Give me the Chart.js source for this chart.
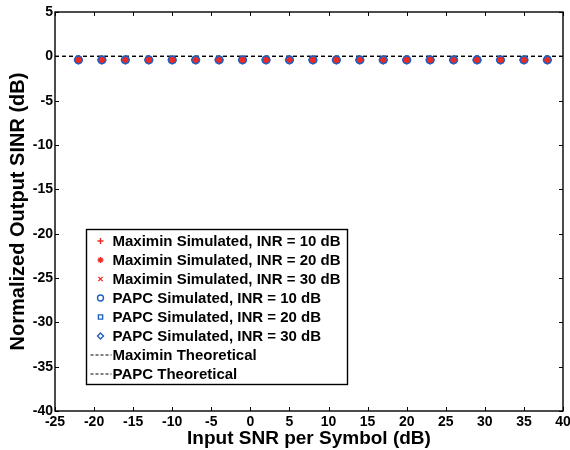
<!DOCTYPE html>
<html>
<head>
<meta charset="utf-8">
<script src="https://cdn.jsdelivr.net/npm/chart.js@4.4.0/dist/chart.umd.min.js"></script>
<style>
  body { margin: 0; background: #fff; }
  #wrap { width: 570px; height: 450px; }
</style>
</head>
<body>
<div id="wrap"><canvas id="plot"></canvas></div>
<script>
// x positions (input SNR per symbol, dB)
const snr = [-22, -19, -16, -13, -10, -7, -4, -1, 2, 5, 8, 11, 14, 17, 20, 23, 26, 29, 32, 35, 38]

// simulated normalized output SINR (dB)
const maximin10 = [-0.4, -0.4, -0.4, -0.4, -0.4, -0.4, -0.4, -0.4, -0.4, -0.4, -0.4, -0.4, -0.4, -0.4, -0.4, -0.4, -0.4, -0.4, -0.4, -0.4, -0.4]
const maximin20 = [-0.4, -0.4, -0.4, -0.4, -0.4, -0.4, -0.4, -0.4, -0.4, -0.4, -0.4, -0.4, -0.4, -0.4, -0.4, -0.4, -0.4, -0.4, -0.4, -0.4, -0.4]
const maximin30 = [-0.4, -0.4, -0.4, -0.4, -0.4, -0.4, -0.4, -0.4, -0.4, -0.4, -0.4, -0.4, -0.4, -0.4, -0.4, -0.4, -0.4, -0.4, -0.4, -0.4, -0.4]
const papc10 = [-0.4, -0.4, -0.4, -0.4, -0.4, -0.4, -0.4, -0.4, -0.4, -0.4, -0.4, -0.4, -0.4, -0.4, -0.4, -0.4, -0.4, -0.4, -0.4, -0.4, -0.4]
const papc20 = [-0.4, -0.4, -0.4, -0.4, -0.4, -0.4, -0.4, -0.4, -0.4, -0.4, -0.4, -0.4, -0.4, -0.4, -0.4, -0.4, -0.4, -0.4, -0.4, -0.4, -0.4]
const papc30 = [-0.4, -0.4, -0.4, -0.4, -0.4, -0.4, -0.4, -0.4, -0.4, -0.4, -0.4, -0.4, -0.4, -0.4, -0.4, -0.4, -0.4, -0.4, -0.4, -0.4, -0.4]

// theoretical curves
const theoryX = [-25, 40]
const maximinTheory = [0, 0]
const papcTheory = [0, 0]

const xTicks = [-25, -20, -15, -10, -5, 0, 5, 10, 15, 20, 25, 30, 35, 40]
const yTicks = [5, 0, -5, -10, -15, -20, -25, -30, -35, -40]

const RED = '#ee2a24'
const BLUE = '#1f5fbf'
const FONT = 'Liberation Sans, Arial, sans-serif'

function pts(xs, ys) {
    return xs.map((x, i) => ({x: x, y: ys[i]}))
}

function sim(label, ys, color, style, r) {
    return {
        label: label, data: pts(snr, ys), showLine: false,
        pointStyle: style, pointRadius: r, pointBorderWidth: 1.5,
        borderColor: color, backgroundColor: 'rgba(0,0,0,0)',
        pointBackgroundColor: 'rgba(0,0,0,0)', pointBorderColor: color
    }
}

function theory(label, ys) {
    return {
        label: label, data: pts(theoryX, ys), showLine: true,
        borderColor: '#000', borderWidth: 1.4, borderDash: [4, 3],
        pointRadius: 0, fill: false, isLine: true
    }
}

const datasets = [
    sim('Maximin Simulated, INR = 10 dB', maximin10, RED, 'cross', 3),
    sim('Maximin Simulated, INR = 20 dB', maximin20, RED, 'star', 3),
    sim('Maximin Simulated, INR = 30 dB', maximin30, RED, 'crossRot', 3),
    sim('PAPC Simulated, INR = 10 dB', papc10, BLUE, 'circle', 3.8),
    sim('PAPC Simulated, INR = 20 dB', papc20, BLUE, 'rect', 3.8),
    sim('PAPC Simulated, INR = 30 dB', papc30, BLUE, 'rectRot', 3.8),
    theory('Maximin Theoretical', maximinTheory),
    theory('PAPC Theoretical', papcTheory)
]
// red markers on top of blue ones
datasets.forEach((d, i) => { d.order = i < 3 ? 0 : (i < 6 ? 1 : 2) })

// frame + inward ticks, MATLAB style
const framePlugin = {
    id: 'frame',
    afterDraw(chart) {
        const ctx = chart.ctx
        const a = chart.chartArea
        const xs = chart.scales.x, ys = chart.scales.y
        ctx.save()
        ctx.strokeStyle = '#000'
        ctx.lineWidth = 1.4
        ctx.strokeRect(a.left, a.top, a.right - a.left, a.bottom - a.top)
        ctx.lineWidth = 1
        ctx.beginPath()
        xTicks.forEach(v => {
            const px = Math.round(xs.getPixelForValue(v)) + 0.5
            ctx.moveTo(px, a.bottom); ctx.lineTo(px, a.bottom - 4)
            ctx.moveTo(px, a.top); ctx.lineTo(px, a.top + 4)
        })
        yTicks.forEach(v => {
            const py = Math.round(ys.getPixelForValue(v)) + 0.5
            ctx.moveTo(a.left, py); ctx.lineTo(a.left + 4, py)
            ctx.moveTo(a.right, py); ctx.lineTo(a.right - 4, py)
        })
        ctx.stroke()
        ctx.restore()
    }
}

// legend box drawn inside the axes
const insideLegend = {
    id: 'insideLegend',
    afterDraw(chart) {
        const ctx = chart.ctx
        const box = {x: 86.5, y: 229.5, w: 261, h: 155}
        const rowH = 19
        ctx.save()
        ctx.fillStyle = '#fff'
        ctx.fillRect(box.x, box.y, box.w, box.h)
        ctx.strokeStyle = '#000'
        ctx.lineWidth = 1.4
        ctx.strokeRect(box.x, box.y, box.w, box.h)
        ctx.font = 'bold 15px ' + FONT
        ctx.textBaseline = 'middle'
        chart.data.datasets.forEach((d, i) => {
            const cy = box.y + 11.5 + i * rowH
            if (d.isLine) {
                ctx.strokeStyle = '#000'
                ctx.lineWidth = 1
                ctx.setLineDash([3, 2])
                ctx.beginPath()
                ctx.moveTo(box.x + 4, cy); ctx.lineTo(box.x + 25, cy)
                ctx.stroke()
                ctx.setLineDash([])
            } else {
                ctx.strokeStyle = d.borderColor
                ctx.fillStyle = 'rgba(0,0,0,0)'
                ctx.lineWidth = 1.4
                Chart.helpers.drawPoint(ctx, {pointStyle: d.pointStyle, radius: 3, borderWidth: 1.4, rotation: 0}, box.x + 14, cy)
            }
            ctx.fillStyle = '#000'
            ctx.fillText(d.label, box.x + 26, cy + 1)
        })
        ctx.restore()
    }
}

new Chart(document.getElementById('plot'), {
    type: 'scatter',
    data: {datasets: datasets},
    plugins: [framePlugin, insideLegend],
    options: {
        responsive: true,
        maintainAspectRatio: false,
        animation: false,
        layout: {padding: {top: 12, right: 7, left: 0, bottom: 0}},
        plugins: {legend: {display: false}, tooltip: {enabled: false}},
        scales: {
            x: {
                type: 'linear', min: -25, max: 40,
                afterFit: (s) => { s.height = 39; s.paddingLeft = 0; s.paddingRight = 0 },
                afterBuildTicks: (s) => { s.ticks = xTicks.map(v => ({value: v})) },
                grid: {display: false, drawTicks: false},
                border: {display: false},
                ticks: {color: '#000', padding: 3, maxRotation: 0, font: {family: FONT, weight: 'bold', size: 14}},
                title: {display: true, text: 'Input SNR per Symbol (dB)', color: '#000',
                    font: {family: FONT, weight: 'bold', size: 19}, padding: {top: 0, bottom: 0}}
            },
            y: {
                type: 'linear', min: -40, max: 5,
                afterFit: (s) => { s.width = 55; s.paddingTop = 0; s.paddingBottom = 0 },
                afterBuildTicks: (s) => { s.ticks = yTicks.map(v => ({value: v})) },
                grid: {display: false, drawTicks: false},
                border: {display: false},
                ticks: {color: '#000', padding: 2, font: {family: FONT, weight: 'bold', size: 14}},
                title: {display: true, text: 'Normalized Output SINR (dB)', color: '#000',
                    font: {family: FONT, weight: 'bold', size: 20}, padding: {top: 6, bottom: 0}}
            }
        }
    }
})
</script>
</body>
</html>
